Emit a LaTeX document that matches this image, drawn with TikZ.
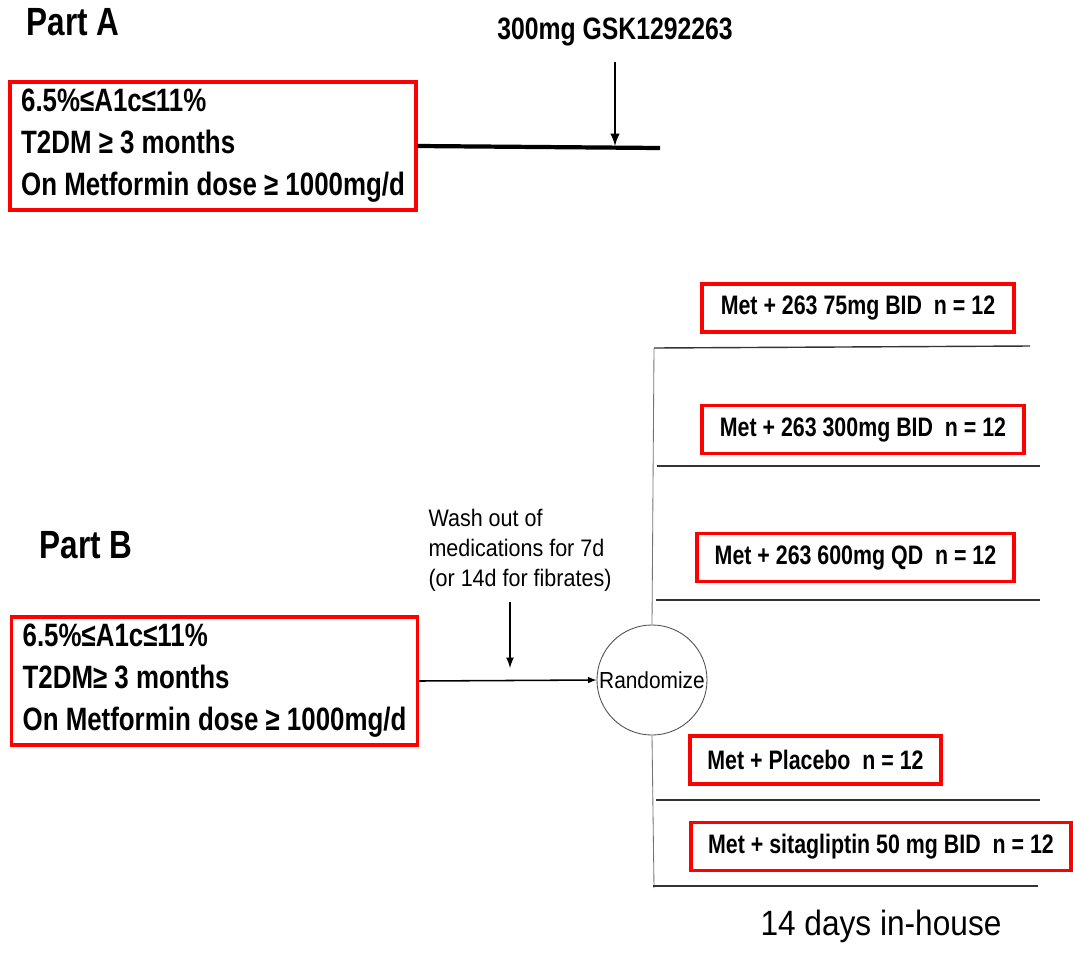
\documentclass[tikz,border=0pt]{standalone}
\usepackage{fontspec}
\setmainfont{Liberation Sans}
\newfontfamily\condfont{Liberation Sans}[FakeStretch=0.8]
\newfontfamily\slimfont{Liberation Sans}[FakeStretch=0.9]
\usetikzlibrary{positioning}
\usetikzlibrary{arrows}

\begin{document}
\begin{tikzpicture}[x=0.025cm, y=-0.025cm,
				crit/.style={draw=red, line width=2.4pt, inner sep=0pt, align=left, minimum width=10.15cm, minimum height=3.2cm, font=\condfont\bfseries\fontsize{23}{29.8}\selectfont},
				arm/.style={draw=red, line width=2.4pt, inner sep=0pt, minimum height=1.2cm, font=\condfont\bfseries\fontsize{19}{22}\selectfont},
				part/.style={font=\condfont\bfseries\fontsize{28}{32}\selectfont},
				rail/.style={draw=black!80, line width=1pt}]
				\useasboundingbox (0,0) rectangle (1073,962);
				
				% Part A
				\node[part](partA) at (73, 22) {Part A};
				\node[crit](critA) at (213, 146) {6.5\%≤A1c≤11\%\\T2DM ≥ 3 months\\On Metformin dose ≥ 1000mg/d};
				\node[font=\condfont\bfseries\fontsize{22}{26}\selectfont](dose) at (615, 32) {300mg GSK1292263};
				\coordinate (endA) at (660, 148);
				\coordinate (doseTop) at (615, 62);
				\coordinate (doseTip) at (615, 146);
				\draw [line width=3pt] (critA.east) -- (endA);
				\draw [-latex, line width=2pt] (doseTop) -- (doseTip);
				
				% Part B
				\node[part](partB) at (86, 545) {Part B};
				\node[crit](critB) at (214.5, 681) {6.5\%≤A1c≤11\%\\T2DM≥ 3 months\\On Metformin dose ≥ 1000mg/d};
				\node[align=left, font=\slimfont\fontsize{17}{21.3}\selectfont](wash) at (520, 550) {Wash out of\\medications for 7d\\(or 14d for fibrates)};
				\node[draw=black!70, line width=0.6pt, circle, inner sep=0pt, minimum size=2.75cm, font=\slimfont\fontsize{16.5}{20}\selectfont](rand) at (652, 680) {Randomize};
				\coordinate (washTop) at (510, 602);
				\coordinate (washTip) at (510, 668);
				\draw [-latex, line width=1.5pt] (washTop) -- (washTip);
				\draw [-latex, line width=1.1pt] (critB.east) -- (rand.west);
				
				% treatment arms
				\node[arm, minimum width=7.8cm](arm1) at (858, 308) {Met + 263 75mg BID \ n = 12};
				\node[arm, minimum width=8.05cm](arm2) at (863, 429.5) {Met + 263 300mg BID \ n = 12};
				\node[arm, minimum width=7.925cm](arm3) at (855.5, 557.5) {Met + 263 600mg QD \ n = 12};
				\node[arm, minimum width=6.275cm](arm4) at (815.5, 760) {Met + Placebo \ n = 12};
				\node[arm, minimum width=9.5cm](arm5) at (881, 846.5) {Met + sitagliptin 50 mg BID \ n = 12};
				
				\coordinate (spineTop) at (654, 348);
				\coordinate (spineBot) at (654, 888);
				\draw [draw=black!55, line width=0.6pt] (spineTop) -- (rand.north);
				\draw [draw=black!55, line width=0.6pt] (rand.south) -- (spineBot);
				\draw [rail] (spineTop) -- (1030, 346);
				\draw [rail] (657, 466) -- (1040, 466);
				\draw [rail] (656, 600) -- (1040, 600);
				\draw [rail] (656, 800) -- (1040, 800);
				\draw [rail] (653, 886) -- (1038, 886);
				
				\node[font=\slimfont\fontsize{25}{30}\selectfont](days) at (881, 926) {14 days in-house};
			\end{tikzpicture}
\end{document}
